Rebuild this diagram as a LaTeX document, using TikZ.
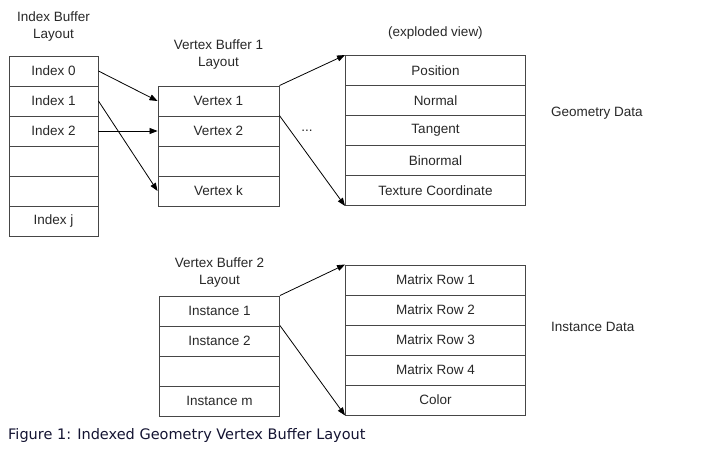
\documentclass[tikz,border=0pt]{standalone}
\usepackage{fontspec}
\setmainfont{Liberation Sans}
\newfontfamily\capfont{DejaVu Sans}
\usetikzlibrary{arrows.meta}
\definecolor{linec}{RGB}{70,70,70}
\definecolor{textc}{RGB}{40,40,40}
\definecolor{capc}{RGB}{20,20,50}
\tikzset{
  cell/.style={draw=linec, line width=0.9pt, rectangle, inner sep=0pt, minimum height=30pt, text=textc, font=\fontsize{13.5}{15}\selectfont},
  idxcell/.style={cell, minimum width=89pt},
  vtxcell/.style={cell, minimum width=121pt},
  expcell/.style={cell, minimum width=180pt},
  lbl/.style={text=textc, font=\fontsize{13.5}{17}\selectfont, align=center, inner sep=0pt},
  conn/.style={draw=black, line width=0.8pt, -{Triangle[length=8pt,width=6pt]}}
}
\begin{document}
\begin{tikzpicture}[x=1pt,y=-1pt]
\useasboundingbox[fill=white] (0,0) rectangle (720,457);
% Index buffer
\node[lbl] (ibl) at (53.5,27) {Index Buffer\\Layout};
\node[idxcell] (i0) at (53.5,71) {Index 0};
\node[idxcell] (i1) at (53.5,101) {Index 1};
\node[idxcell] (i2) at (53.5,131) {Index 2};
\node[idxcell] (i3) at (53.5,161) {};
\node[idxcell] (i4) at (53.5,191) {};
\node[idxcell] (ij) at (53.5,221) {Index j};
% Vertex buffer 1
\node[lbl] (vbl) at (218.5,54.5) {Vertex Buffer 1\\Layout};
\node[vtxcell] (v1) at (218.5,101) {Vertex 1};
\node[vtxcell] (v2) at (218.5,131) {Vertex 2};
\node[vtxcell] (v3) at (218.5,161) {};
\node[vtxcell] (vk) at (218.5,191) {Vertex k};
% Exploded view
\node[lbl] (evl) at (435.5,33) {(exploded view)};
\node[expcell] (pos) at (435.5,70.5) {Position};
\node[expcell] (nrm) at (435.5,100.5) {Normal};
\node[expcell] (tan) at (435.5,130.5) {Tangent};
\node[expcell] (bin) at (435.5,160.5) {Binormal};
\node[expcell] (tex) at (435.5,190.5) {Texture Coordinate};
\node[lbl] (dots) at (307,131) {...};
\node[lbl, anchor=west] (gd) at (551,113) {Geometry Data};
% Vertex buffer 2
\node[lbl] (vb2l) at (219.5,273) {Vertex Buffer 2\\Layout};
\node[vtxcell, minimum width=120pt] (n1) at (219.5,311) {Instance 1};
\node[vtxcell, minimum width=120pt] (n2) at (219.5,341) {Instance 2};
\node[vtxcell, minimum width=120pt] (n3) at (219.5,371) {};
\node[vtxcell, minimum width=120pt] (nm) at (219.5,401) {Instance m};
\node[expcell] (m1) at (435.5,280) {Matrix Row 1};
\node[expcell] (m2) at (435.5,310) {Matrix Row 2};
\node[expcell] (m3) at (435.5,340) {Matrix Row 3};
\node[expcell] (m4) at (435.5,370) {Matrix Row 4};
\node[expcell] (col) at (435.5,400) {Color};
\node[lbl, anchor=west] (id) at (551,327) {Instance Data};
% Caption
\node[anchor=west, inner sep=0pt, text=capc, font=\capfont\fontsize{14.5}{16}\selectfont] (cap) at (8,435) {Figure 1: Indexed Geometry Vertex Buffer Layout};
% Connectors
\draw[conn] (i0.east) -- (v1.west);
\draw[conn] (i1.east) -- (vk.west);
\draw[conn] (i2.east) -- (v2.west);
\draw[conn] (v1.north east) -- (pos.north west);
\draw[conn] (v2.north east) -- (tex.south west);
\draw[conn] (n1.north east) -- (m1.north west);
\draw[conn] (n2.north east) -- (col.south west);
\end{tikzpicture}
\end{document}
